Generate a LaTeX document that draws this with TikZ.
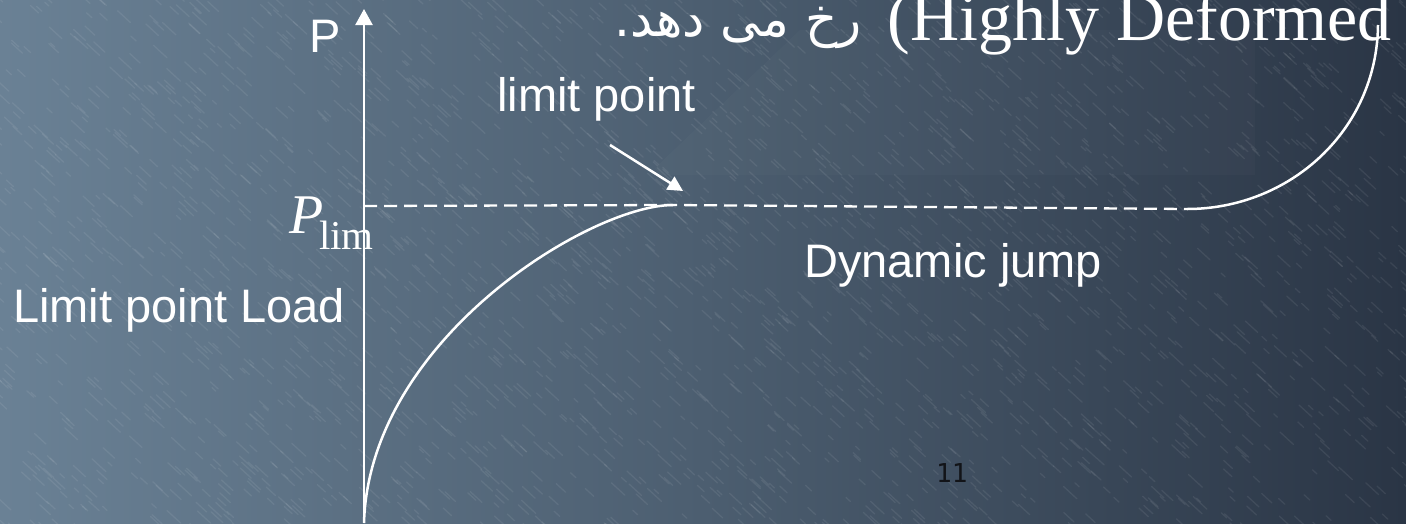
\documentclass[tikz,border=0pt]{standalone}
\usepackage{fontspec}
\setmainfont{Liberation Serif}
\newfontfamily\arial{Liberation Sans}
\newfontfamily\arabicfont[Script=Arabic]{DejaVu Sans}
\newfontfamily\pagefont{DejaVu Sans Mono}
\TeXXeTstate=1
\usetikzlibrary{arrows.meta}
\definecolor{bgL}{RGB}{106,129,149}
\definecolor{bgM}{RGB}{76,94,112}
\definecolor{bgR}{RGB}{42,53,69}
\definecolor{pagenum}{RGB}{18,20,24}
\tikzset{
  txt/.style={inner sep=0pt, text=white},
  sans/.style={txt, font=\arial\fontsize{47}{47}\selectfont},
  curveline/.style={draw=white, line width=2.5pt},
  axisline/.style={draw=white, line width=2.3pt, -{Triangle[length=16pt,width=17pt]}},
  levelline/.style={draw=white, line width=2.3pt, dash pattern=on 13pt off 7pt},
  pointer/.style={draw=white, line width=2.5pt, -{Triangle[length=15pt,width=15pt]}},
}
\begin{document}
\begin{tikzpicture}[x=1pt,y=-1pt]
  % slide background
  \useasboundingbox (0,0) rectangle (1406,523);
  \shade[left color=bgL, right color=bgR, middle color=bgM] (0,0) rectangle (1406,523);
  % faint watermark of the slide template
  \fill[white, opacity=0.02] (655,168) -- (800,30) -- (1255,30) -- (1255,175) -- (660,175) -- cycle;
  % rain streaks of the background texture
  \pgfmathsetseed{7}
  \begin{scope}
    \clip (0,0) rectangle (1406,523);
    \foreach \i in {1,...,2800} {
      \pgfmathsetmacro\sx{rnd*1450-30}
      \pgfmathsetmacro\sy{rnd*560-30}
      \pgfmathsetmacro\sl{5+rnd*14}
      \draw[white, opacity=0.075, line width=1.3pt, line cap=round]
        (\sx,\sy) -- ++(\sl*0.74,\sl*0.68);
    }
  \end{scope}

  % key points of the load curve
  \coordinate (O) at (364,523);
  \coordinate (Ptop) at (364,9);
  \coordinate (Lev) at (364,206);
  \coordinate (Lim) at (673,205);
  \coordinate (Jmp) at (1187,209);
  \coordinate (Hi) at (1378,25);
  \coordinate (Atail) at (610,145);
  \coordinate (Ahead) at (683,191);

  % load axis
  \draw[axisline] (O) -- (Ptop);
  % limit load level
  \draw[levelline] (Lev) -- (Lim) -- (Jmp);
  % pre-buckling branch
  \draw[curveline] (O) .. controls (369,340) and (590,205) .. (Lim);
  % post-jump branch
  \draw[curveline] (Jmp) .. controls (1290,209) and (1377,130) .. (Hi);
  % pointer to the limit point
  \draw[pointer] (Atail) -- (Ahead);

  % labels
  \node[sans, anchor=base west] (pl) at (309,52) {P};
  \node[sans, anchor=base west] (lp) at (497,111) {limit point};
  \node[sans, anchor=base west] (lpl) at (13,322) {Limit point Load};
  \node[sans, anchor=base west] (dj) at (804,277) {Dynamic jump};
  \node[txt, anchor=base west, font=\fontsize{56}{56}\selectfont\itshape] (plim) at (289,233) {P};
  \node[txt, anchor=base west, font=\fontsize{41}{41}\selectfont] (plimsub) at (319,249) {lim};
  \node[txt, anchor=base east, font=\fontsize{68}{68}\selectfont] (hd) at (1392,40) {(Highly Deformed};
  \node[txt, anchor=base east, font=\arabicfont\fontsize{50}{50}\selectfont] (fa) at (862,36) {\beginR رخ می دهد.\endR};
  \node[inner sep=0pt, anchor=base west, text=pagenum, font=\pagefont\fontsize{26}{26}\selectfont] (pg) at (936,482) {11};
\end{tikzpicture}
\end{document}
